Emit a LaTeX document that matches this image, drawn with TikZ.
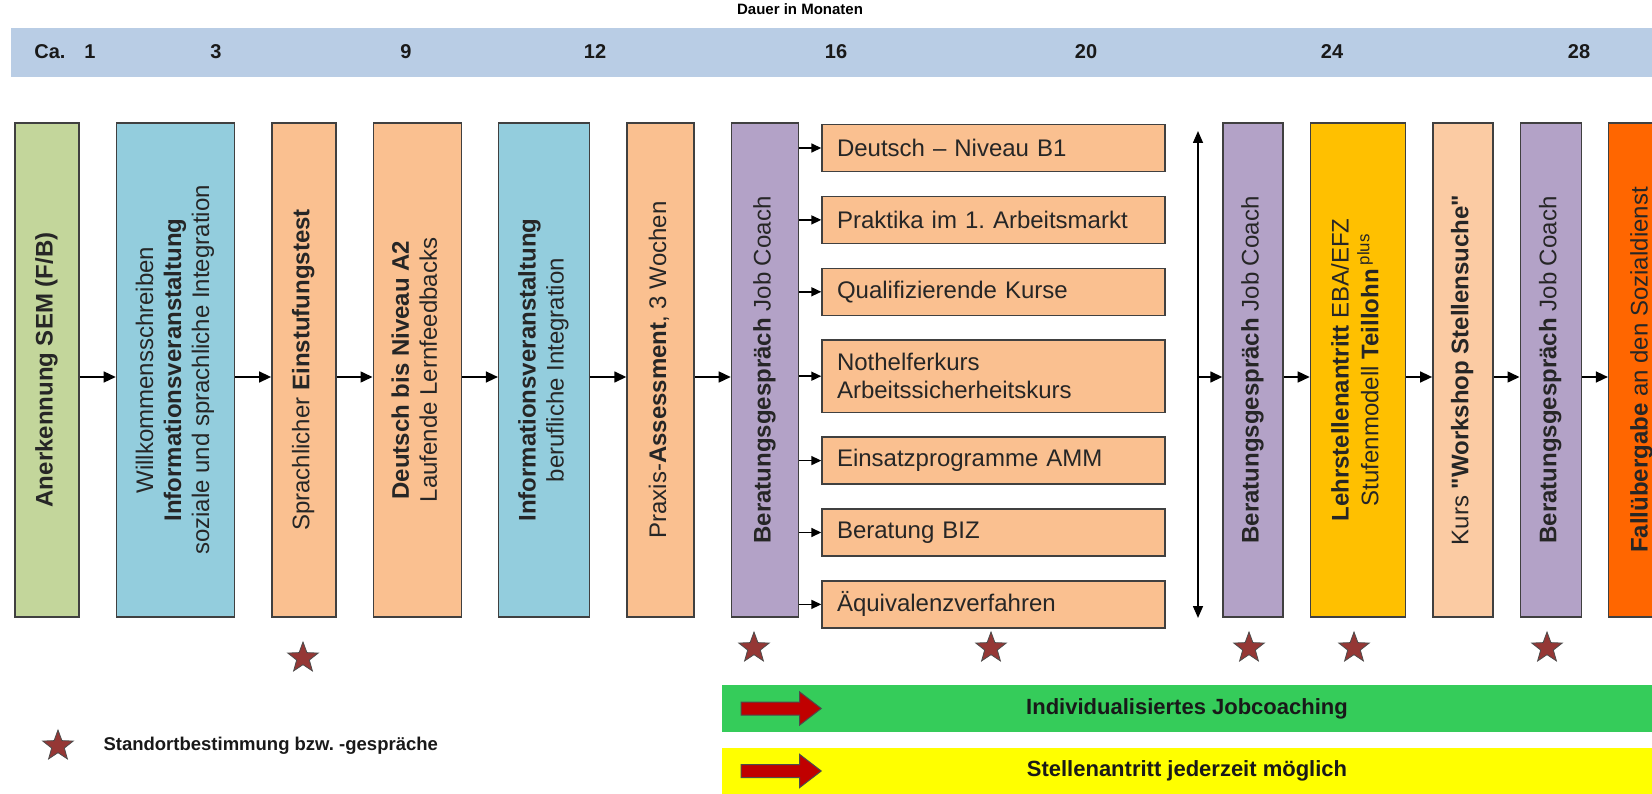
\documentclass[tikz,border=0pt]{standalone}
\usepackage{fontspec}
\setmainfont{Liberation Sans}
\newfontfamily\geradefont{Liberation Sans}
\usepackage{graphicx}
\usetikzlibrary{chains,positioning,shapes.geometric,shapes.arrows,arrows.meta}

\definecolor{leiste}{HTML}{B9CDE5}
\definecolor{gruen}{HTML}{C3D69B}
\definecolor{blau}{HTML}{93CDDD}
\definecolor{lachs}{HTML}{FAC090}
\definecolor{lachshell}{HTML}{FBCBA3}
\definecolor{lila}{HTML}{B3A2C7}
\definecolor{gold}{HTML}{FFC000}
\definecolor{rotorange}{HTML}{FF6600}
\definecolor{jobgruen}{HTML}{35CC5A}
\definecolor{gelb}{HTML}{FFFF00}
\definecolor{sternrot}{HTML}{953735}
\definecolor{pfeilrot}{HTML}{C00000}

\newcommand{\vtxt}[1]{\rotatebox{90}{\begin{tabular}{@{}c@{}}#1\end{tabular}}}

\begin{document}
\begin{tikzpicture}[x=1pt, y=-1pt,
    font=\fontsize{24}{28}\selectfont,
    saeule/.style={on chain, draw=black!75, line width=1.4pt,
        minimum height=494pt, inner sep=0pt, text=black!85},
    kurs/.style={on chain, draw=black!75, fill=lachs, line width=1.4pt,
        minimum height=47pt, text width=313pt, inner xsep=15pt,
        align=left, text=black!85},
    pfeil/.style={line width=1.5pt, -{Triangle[length=12pt,width=11pt]}},
    stern/.style={star, star points=5, star point ratio=2.4,
        fill=sternrot, draw=black!70, line width=0.8pt,
        minimum size=32pt, inner sep=0pt},
    balken/.style={minimum width=930pt, minimum height=47pt,
        font=\fontsize{22}{26}\selectfont\bfseries, text=black!90},
    blockpfeil/.style={single arrow, fill=pfeilrot, draw=black!70,
        line width=1pt, minimum height=80pt, inner sep=6pt,
        single arrow head extend=10pt, single arrow tip angle=75},
    zahl/.style={font=\fontsize{20}{24}\selectfont\bfseries, text=black!90}
    ]
    \useasboundingbox (0,0) rectangle (1652,794);

    % Zeitleiste
    \node[fill=leiste, minimum width=1650pt, minimum height=49pt,
        anchor=north west, inner sep=0pt] (leiste) at (11,28) {};
    \node[font=\fontsize{15}{18}\selectfont\bfseries] (dauer) at (800,9) {Dauer in Monaten};
    \foreach \z/\xp in {Ca./50, 1/90, 3/216, 9/406, 12/595, 16/836,
        20/1086, 24/1332, 28/1579}
        \node[zahl] (monat\xp) at (\xp,52) {\z};

    % Saeulen links
    \begin{scope}[start chain=links going right, node distance=36pt]
    \node[saeule, fill=gruen, minimum width=64pt] (anerk) at (47,370)
        {\vtxt{\bfseries Anerkennung SEM (F/B)}};
    \node[saeule, fill=blau, minimum width=118pt] (willk)
        {\vtxt{Willkommensschreiben\\ \textbf{Informationsveranstaltung}\\
        soziale und sprachliche Integration}};
    \node[saeule, fill=lachs, minimum width=64pt] (test)
        {\vtxt{Sprachlicher \textbf{Einstufungstest}}};
    \node[saeule, fill=lachs, minimum width=88pt] (deutsch)
        {\vtxt{\textbf{Deutsch bis Niveau A2}\\ Laufende Lernfeedbacks}};
    \node[saeule, fill=blau, minimum width=91pt] (infob)
        {\vtxt{\textbf{Informationsveranstaltung}\\ berufliche Integration}};
    \node[saeule, fill=lachs, minimum width=67pt] (praxis)
        {\vtxt{Praxis-\textbf{Assessment}, 3 Wochen}};
    \node[saeule, fill=lila, minimum width=67pt] (beratA)
        {\vtxt{\textbf{Beratungsgespräch} Job Coach}};
    \end{scope}

    % Angebote
    \begin{scope}[start chain=angebote going below, node distance=23.5pt]
    \node[kurs] (k1) at (993.5,148) {Deutsch – Niveau B1};
    \node[kurs] (k2) {Praktika im 1.\ Arbeitsmarkt};
    \node[kurs] (k3) {Qualifizierende Kurse};
    \node[kurs, minimum height=72pt] (k4) {Nothelferkurs\\ Arbeitssicherheitskurs};
    \node[kurs] (k5) {Einsatzprogramme AMM};
    \node[kurs] (k6) {Beratung BIZ};
    \node[kurs] (k7) {Äquivalenzverfahren};
    \end{scope}

    % Saeulen rechts
    \begin{scope}[start chain=rechts going right, node distance=26pt]
    \node[saeule, fill=lila, minimum width=60pt] (beratB) at (1253,370)
        {\vtxt{\textbf{Beratungsgespräch} Job Coach}};
    \node[saeule, fill=gold, minimum width=95pt] (lehr)
        {\vtxt{\textbf{Lehrstellenantritt} EBA/EFZ\\
        Stufenmodell \textbf{Teillohn}\,\textsuperscript{plus}}};
    \node[saeule, fill=lachshell, minimum width=60pt] (kursws)
        {\vtxt{Kurs {\geradefont\bfseries "Workshop Stellensuche"}}};
    \node[saeule, fill=lila, minimum width=61pt] (beratC)
        {\vtxt{\textbf{Beratungsgespräch} Job Coach}};
    \node[saeule, fill=rotorange, minimum width=67pt] (fall)
        {\vtxt{\textbf{Fallübergabe} an den Sozialdienst}};
    \end{scope}

    % Pfeile
    \foreach \von/\nach in {anerk/willk, willk/test, test/deutsch,
        deutsch/infob, infob/praxis, praxis/beratA, beratB/lehr,
        lehr/kursws, kursws/beratC, beratC/fall}
        \draw[pfeil] ([yshift=-7pt]\von.east) -- ([yshift=-7pt]\nach.west);
    \foreach \k in {1,...,7}
        \draw[pfeil, -{Triangle[length=10pt,width=9pt]}]
            (beratA.east |- k\k.west) -- (k\k.west);

    \coordinate (dpoben) at (1198,131);
    \coordinate (dpunten) at (1198,618);
    \coordinate (dpmitte) at (1198,377);
    \draw[line width=1.5pt, {Triangle[length=12pt,width=10pt]}-{Triangle[length=12pt,width=10pt]}]
        (dpoben) -- (dpunten);
    \draw[pfeil] (dpmitte) -- ([yshift=-7pt]beratB.west);

    % Sterne
    \node[stern] (s1) at (303,658) {};
    \node[stern] (s2) at (754,648) {};
    \node[stern] (s3) at (991,648) {};
    \node[stern] (s4) at (1249,648) {};
    \node[stern] (s5) at (1354,648) {};
    \node[stern] (s6) at (1547,648) {};

    % Legende
    \node[stern] (slegende) at (58,746) {};
    \node[anchor=west, font=\fontsize{18.5}{22}\selectfont\bfseries, text=black!90]
        (legende) at (100,746) {Standortbestimmung bzw.\ -gespräche};

    % Balken unten
    \node[balken, fill=jobgruen] (coaching) at (1187,708.5) {Individualisiertes Jobcoaching};
    \node[balken, fill=gelb] (antritt) at (1187,771) {Stellenantritt jederzeit möglich};
    \node[blockpfeil] (pfeilA) at (777,708.5) {};
    \node[blockpfeil] (pfeilB) at (777,771) {};
\end{tikzpicture}
\end{document}
